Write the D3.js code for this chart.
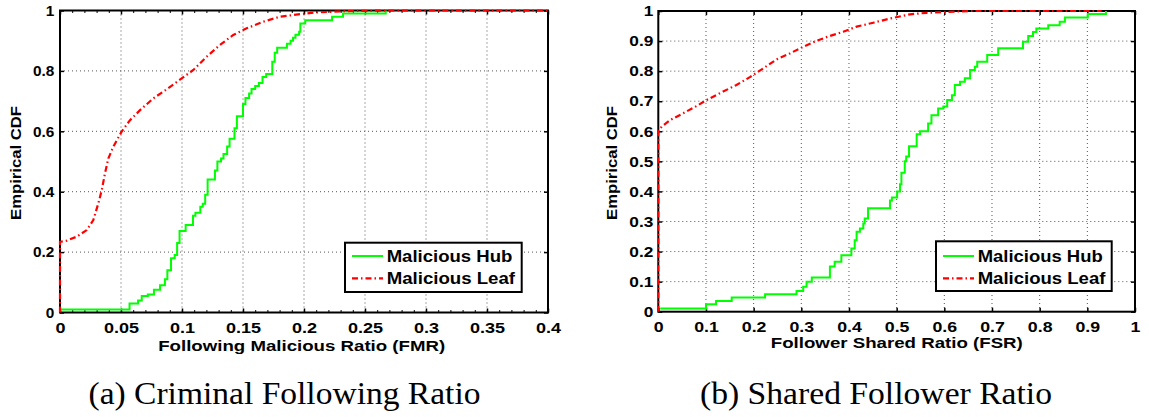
<!DOCTYPE html>
<html>
<head>
<meta charset="utf-8">
<script src="https://cdn.jsdelivr.net/npm/d3@7"></script>
<style>
  body { margin: 0; background: #fff; }
  svg { display: block; }
  .tick line { stroke: #000; stroke-width: 1.5; }
  .tick-label { font-family: "Liberation Sans", Arial, Helvetica, sans-serif; font-weight: 700; font-size: 14.8px; fill: #000; }
  .axis-label { font-family: "Liberation Sans", Arial, Helvetica, sans-serif; font-weight: 700; font-size: 15px; fill: #000; }
  .legend-label { font-family: "Liberation Sans", Arial, Helvetica, sans-serif; font-weight: 700; font-size: 16px; fill: #000; }
  .caption { font-family: "Liberation Serif", "Times New Roman", Times, "DejaVu Serif", "Noto Serif", serif; font-size: 32px; fill: #000; }
  .grid { stroke: #555; stroke-width: 1; stroke-dasharray: 1, 3; }
  .frame { fill: none; stroke: #000; stroke-width: 2; }
</style>
</head>
<body>
<div id="chart"></div>
<script>
// Series names and captions
const seriesNames = ['Malicious Hub', 'Malicious Leaf'];
const captions = ['(a) Criminal Following Ratio', '(b) Shared Follower Ratio'];
const xTitles = ['Following Malicious Ratio (FMR)', 'Follower Shared Ratio (FSR)'];
const yTitle = 'Empirical CDF';

// Tick values
const fmrTicks = [0, 0.05, 0.1, 0.15, 0.2, 0.25, 0.3, 0.35, 0.4];
const fsrTicks = [0, 0.1, 0.2, 0.3, 0.4, 0.5, 0.6, 0.7, 0.8, 0.9, 1];
const cdfTicksA = [0, 0.2, 0.4, 0.6, 0.8, 1];
const cdfTicksB = [0, 0.1, 0.2, 0.3, 0.4, 0.5, 0.6, 0.7, 0.8, 0.9, 1];

// (a) Malicious hub, FMR (stairs)
const hubFmrX = [0, 0.057, 0.064, 0.067, 0.072, 0.077, 0.082, 0.086, 0.088, 0.091, 0.094, 0.096, 0.098, 0.103, 0.109, 0.111, 0.115, 0.117, 0.119, 0.121, 0.127, 0.129, 0.132, 0.134, 0.137, 0.139, 0.143, 0.145, 0.150, 0.152, 0.155, 0.157, 0.160, 0.163, 0.166, 0.169, 0.174, 0.176, 0.178, 0.186, 0.189, 0.191, 0.193, 0.196, 0.197, 0.201, 0.223, 0.232, 0.267];
const hubFmrY = [0.01, 0.03, 0.04, 0.055, 0.06, 0.075, 0.09, 0.11, 0.14, 0.18, 0.19, 0.23, 0.27, 0.29, 0.32, 0.33, 0.35, 0.36, 0.39, 0.44, 0.47, 0.5, 0.51, 0.525, 0.55, 0.575, 0.61, 0.65, 0.69, 0.71, 0.725, 0.74, 0.75, 0.76, 0.78, 0.79, 0.83, 0.86, 0.877, 0.89, 0.9, 0.91, 0.92, 0.93, 0.957, 0.968, 0.979, 0.99, 1.0];

// (a) Malicious leaf, FMR
const leafFmrX = [0, 0, 0.0055, 0.0137, 0.0219, 0.0273, 0.0314, 0.0342, 0.0369, 0.0396, 0.0437, 0.0505, 0.0574, 0.0656, 0.0765, 0.0874, 0.0997, 0.1093, 0.1202, 0.1311, 0.142, 0.153, 0.1667, 0.180, 0.1967, 0.2077, 0.235, 0.27, 0.4];
const leafFmrY = [0, 0.234, 0.238, 0.251, 0.273, 0.306, 0.361, 0.405, 0.461, 0.51, 0.549, 0.599, 0.637, 0.67, 0.709, 0.739, 0.775, 0.803, 0.847, 0.886, 0.919, 0.941, 0.963, 0.979, 0.988, 0.993, 0.998, 1.0, 1.0];

// (b) Malicious hub, FSR (stairs)
const hubFsrX = [0.004, 0.1, 0.121, 0.154, 0.224, 0.29, 0.304, 0.311, 0.322, 0.36, 0.37, 0.384, 0.405, 0.412, 0.416, 0.423, 0.43, 0.433, 0.44, 0.486, 0.49, 0.501, 0.507, 0.51, 0.517, 0.52, 0.526, 0.542, 0.549, 0.566, 0.573, 0.587, 0.598, 0.606, 0.616, 0.622, 0.633, 0.643, 0.654, 0.664, 0.669, 0.69, 0.713, 0.765, 0.776, 0.786, 0.793, 0.818, 0.842, 0.853, 0.901, 0.939];
const hubFsrY = [0.011, 0.025, 0.036, 0.047, 0.058, 0.069, 0.083, 0.1, 0.114, 0.15, 0.166, 0.188, 0.21, 0.238, 0.266, 0.277, 0.293, 0.31, 0.344, 0.37, 0.38, 0.4, 0.424, 0.462, 0.5, 0.516, 0.55, 0.59, 0.6, 0.626, 0.653, 0.676, 0.682, 0.704, 0.72, 0.754, 0.765, 0.776, 0.804, 0.815, 0.831, 0.854, 0.876, 0.898, 0.917, 0.93, 0.942, 0.953, 0.964, 0.978, 0.99, 1.0];

// (b) Malicious leaf, FSR
const leafFsrX = [0, 0, 0.007, 0.0245, 0.0524, 0.0804, 0.1014, 0.136, 0.164, 0.192, 0.22, 0.248, 0.276, 0.304, 0.332, 0.36, 0.388, 0.416, 0.451, 0.486, 0.528, 0.563, 0.605, 0.653, 0.93];
const leafFsrY = [0, 0.599, 0.615, 0.637, 0.66, 0.684, 0.704, 0.732, 0.754, 0.78, 0.809, 0.839, 0.859, 0.881, 0.901, 0.917, 0.931, 0.948, 0.961, 0.975, 0.989, 0.994, 0.997, 1.0, 1.0];

const GREEN = '#00ff00';
const RED = '#ff0000';
const RED_DASH = '6,3,1.5,3';

class CdfPanel {
  constructor (args) {
    this.svg = args.svg;
    this.o = args.options;
    this.hub = d3.zip(args.hubX, args.hubY);
    this.leaf = d3.zip(args.leafX, args.leafY);
    this.xTicks = args.xTicks;
    this.yTicks = args.yTicks;
  }

  render () {
    this.g = this.svg.append('g');
    this.computeScaleFns();
    this.addGrid();
    this.addAxes();
    // lines sit on top of the frame, like the matlab export
    this.addLines();
    this.addTitles();
    this.addLegend();
  }

  computeScaleFns () {
    // X axis -> ratio, Y axis -> CDF
    this.x = d3.scaleLinear().domain(d3.extent(this.xTicks)).range([this.o.left, this.o.right]);
    this.y = d3.scaleLinear().domain([0, 1]).range([this.o.bottom, this.o.top]);
  }

  addGrid () {
    let xs = this.xTicks.slice(1, -1),
        ys = this.yTicks.slice(1, -1);

    this.g.selectAll('.gx').data(xs).enter().append('line')
      .attr('class', 'grid')
      .attr('x1', (d) => this.x(d)).attr('x2', (d) => this.x(d))
      .attr('y1', this.o.top).attr('y2', this.o.bottom);

    this.g.selectAll('.gy').data(ys).enter().append('line')
      .attr('class', 'grid')
      .attr('y1', (d) => this.y(d)).attr('y2', (d) => this.y(d))
      .attr('x1', this.o.left).attr('x2', this.o.right);
  }

  addLines () {
    let stairs = d3.line()
      .x((d) => this.x(d[0]))
      .y((d) => this.y(d[1]))
      .curve(d3.curveStepAfter);

    let plain = d3.line()
      .x((d) => this.x(d[0]))
      .y((d) => this.y(d[1]));

    this.g.append('path')
      .attr('d', stairs(this.hub))
      .attr('fill', 'none')
      .attr('stroke', GREEN)
      .attr('stroke-width', 2);

    this.g.append('path')
      .attr('d', plain(this.leaf))
      .attr('fill', 'none')
      .attr('stroke', RED)
      .attr('stroke-width', 2.2)
      .attr('stroke-dasharray', RED_DASH);
  }

  addAxes () {
    let o = this.o,
        fmt = d3.format('~g');

    this.g.append('rect')
      .attr('class', 'frame')
      .attr('x', o.left).attr('y', o.top)
      .attr('width', o.right - o.left).attr('height', o.bottom - o.top);

    let bottom = this.g.append('g')
      .attr('transform', `translate(0,${o.bottom})`)
      .call(d3.axisBottom(this.x).tickValues(this.xTicks).tickSize(-4).tickFormat(fmt));
    bottom.select('.domain').remove();
    bottom.selectAll('text')
      .attr('class', 'tick-label')
      .attr('dy', null)
      .attr('y', o.xLabelY - o.bottom)
      .attr('transform', `scale(${o.xStretch},1)`);

    let top = this.g.append('g')
      .attr('transform', `translate(0,${o.top})`)
      .call(d3.axisTop(this.x).tickValues(this.xTicks).tickSize(-4).tickFormat(''));
    top.select('.domain').remove();

    if (o.xMinor) {
      [[d3.axisBottom, o.bottom], [d3.axisTop, o.top]].forEach(([axis, y]) => {
        let m = this.g.append('g')
          .attr('transform', `translate(0,${y})`)
          .call(axis(this.x).tickValues(o.xMinor).tickSize(-2.5).tickFormat(''));
        m.select('.domain').remove();
        m.selectAll('line').style('stroke-width', 1);
      });
    }

    let left = this.g.append('g')
      .attr('transform', `translate(${o.left},0)`)
      .call(d3.axisLeft(this.y).tickValues(this.yTicks).tickSize(-4).tickFormat(fmt));
    left.select('.domain').remove();
    left.selectAll('text')
      .attr('class', 'tick-label')
      .attr('x', -o.yLabelGap / o.yStretch)
      .attr('transform', `scale(${o.yStretch},1)`);

    let right = this.g.append('g')
      .attr('transform', `translate(${o.right},0)`)
      .call(d3.axisRight(this.y).tickValues(this.yTicks).tickSize(-4).tickFormat(''));
    right.select('.domain').remove();
  }

  addTitles () {
    let o = this.o;

    this.g.append('text')
      .attr('class', 'axis-label')
      .attr('x', o.xTitle.x).attr('y', o.xTitle.y)
      .attr('text-anchor', 'middle')
      .attr('textLength', o.xTitle.len)
      .attr('lengthAdjust', 'spacingAndGlyphs')
      .text(o.xTitle.text);

    this.g.append('text')
      .attr('class', 'axis-label')
      .attr('transform', `translate(${o.yTitle.x},${o.yTitle.y}) rotate(-90)`)
      .attr('text-anchor', 'middle')
      .attr('textLength', o.yTitle.len)
      .attr('lengthAdjust', 'spacingAndGlyphs')
      .text(yTitle);

    this.g.append('text')
      .attr('class', 'caption')
      .attr('x', o.caption.x).attr('y', o.caption.y)
      .attr('textLength', o.caption.len)
      .attr('lengthAdjust', 'spacingAndGlyphs')
      .text(o.caption.text);
  }

  addLegend () {
    let L = this.o.legend;

    this.g.append('rect')
      .attr('x', L.x).attr('y', L.y)
      .attr('width', L.w).attr('height', L.h)
      .attr('fill', '#fff')
      .attr('stroke', '#000')
      .attr('stroke-width', 2);

    let styles = [
      { color: GREEN, dash: null, width: 2 },
      { color: RED, dash: RED_DASH, width: 2.2 }
    ];

    seriesNames.forEach((name, i) => {
      let cy = L.y + L.rows[i];

      this.g.append('line')
        .attr('x1', L.x + 7).attr('x2', L.x + 38)
        .attr('y1', cy).attr('y2', cy)
        .attr('stroke', styles[i].color)
        .attr('stroke-width', styles[i].width)
        .attr('stroke-dasharray', styles[i].dash);

      this.g.append('text')
        .attr('class', 'legend-label')
        .attr('x', L.x + 41.7)
        .attr('y', cy + 5.8)
        .attr('textLength', L.lens[i])
        .attr('lengthAdjust', 'spacingAndGlyphs')
        .text(name);
    });
  }
}

const svg = d3.select('#chart')
  .append('svg')
  .attr('width', 1149)
  .attr('height', 417);

new CdfPanel({
  svg: svg,
  hubX: hubFmrX, hubY: hubFmrY,
  leafX: leafFmrX, leafY: leafFmrY,
  xTicks: fmrTicks, yTicks: cdfTicksA,
  options: {
    left: 60, right: 548, top: 10.5, bottom: 312.5,
    xLabelY: 333.3, xStretch: 1.22,
    yLabelGap: 5.7, yStretch: 1.04,
    xMinor: d3.range(41).map((i) => i / 100),
    xTitle: { text: xTitles[0], x: 301.7, y: 351, len: 287 },
    yTitle: { x: 21, y: 163, len: 114 },
    caption: { text: captions[0], x: 88.5, y: 404, len: 392 },
    legend: { x: 345, y: 242.7, w: 176.7, h: 49.3, rows: [13.3, 35.6], lens: [125.6, 128.3] }
  }
}).render();

new CdfPanel({
  svg: svg,
  hubX: hubFsrX, hubY: hubFsrY,
  leafX: leafFsrX, leafY: leafFsrY,
  xTicks: fsrTicks, yTicks: cdfTicksB,
  options: {
    left: 658.3, right: 1135, top: 11, bottom: 311.7,
    xLabelY: 331.7, xStretch: 1.2,
    yLabelGap: 5, yStretch: 1.17,
    xMinor: null,
    xTitle: { text: xTitles[1], x: 896.8, y: 348, len: 252 },
    yTitle: { x: 617.4, y: 163, len: 114 },
    caption: { text: captions[1], x: 700, y: 404, len: 352 },
    legend: { x: 936, y: 241.3, w: 175.7, h: 49.7, rows: [14.7, 37], lens: [125, 127.7] }
  }
}).render();
</script>
</body>
</html>
